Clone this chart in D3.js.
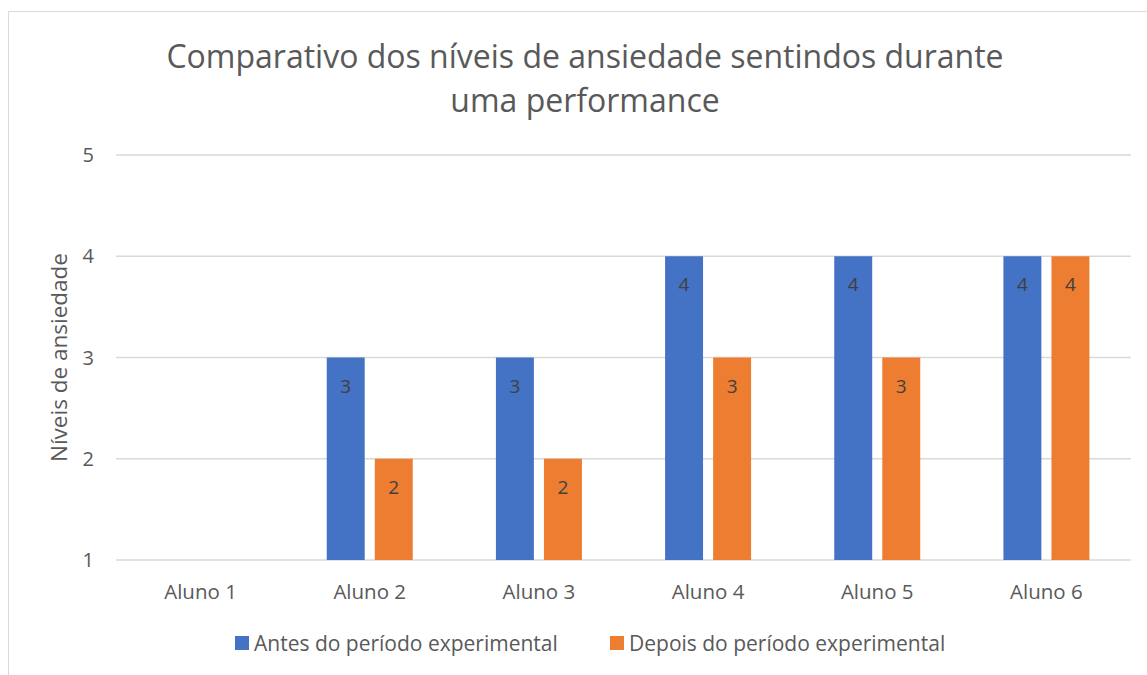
<!DOCTYPE html>
<html>
<head>
<meta charset="utf-8">
<script src="https://cdn.jsdelivr.net/npm/d3@7"></script>
<style>
  body { margin: 0; background: #fff; }
  text { font-family: "Open Sans", "Noto Sans", sans-serif; fill: #595959; }
</style>
</head>
<body>
<div></div>
<script>
let categories = ["Aluno 1", "Aluno 2", "Aluno 3", "Aluno 4", "Aluno 5", "Aluno 6"]
let seriesNames = ["Antes do período experimental", "Depois do período experimental"]
let antes = [1, 3, 3, 4, 4, 4]
let depois = [1, 2, 2, 3, 3, 4]
let yTicks = [1, 2, 3, 4, 5]
let colors = ["#4472C4", "#ED7D31"]

let margin = {top: 155, right: 16, bottom: 115, left: 116}
let W = 1147, H = 675
let width = W - margin.left - margin.right
let height = H - margin.top - margin.bottom

let root = d3.select("div").append("svg")
    .attr("width", W)
    .attr("height", H)

// chart border
root.append("rect")
    .attr("x", 8.5).attr("y", 11.5)
    .attr("width", 1200).attr("height", 700)
    .attr("fill", "none")
    .attr("stroke", "#d9d9d9")

let svg = root.append("g")
    .attr("transform", "translate(" + margin.left + "," + margin.top + ")")

let x = d3.scaleBand().domain(categories).range([0, width])
let inner = d3.scaleBand().domain([0, 1]).range([0, 86]).paddingInner(0.21)
let y = d3.scaleLinear().domain([1, 5]).range([height, 0])

// gridlines
svg.selectAll(".grid")
    .data(yTicks)
    .enter().append("line")
    .attr("x1", 0).attr("x2", width)
    .attr("y1", d => y(d)).attr("y2", d => y(d))
    .attr("stroke", "#d9d9d9")
    .attr("stroke-width", 1.5)

// y tick labels
svg.selectAll(".ytick")
    .data(yTicks)
    .enter().append("text")
    .attr("x", -22)
    .attr("y", d => y(d))
    .attr("dy", "0.35em")
    .attr("text-anchor", "end")
    .style("font-size", "20px")
    .text(d => d)

// x labels
svg.selectAll(".xlab")
    .data(categories)
    .enter().append("text")
    .attr("x", d => x(d) + x.bandwidth() / 2)
    .attr("y", height + 39)
    .attr("text-anchor", "middle")
    .style("font-size", "20.5px")
    .text(d => d)

let rows = []
categories.forEach((c, i) => {
    rows.push({cat: c, s: 0, value: antes[i]})
    rows.push({cat: c, s: 1, value: depois[i]})
})

let off = (x.bandwidth() - 86) / 2

svg.selectAll(".bar")
    .data(rows.filter(d => d.value > 1))
    .enter().append("rect")
    .attr("x", d => x(d.cat) + off + inner(d.s))
    .attr("width", inner.bandwidth())
    .attr("y", d => y(d.value))
    .attr("height", d => y(1) - y(d.value))
    .attr("fill", d => colors[d.s])

svg.selectAll(".lbl")
    .data(rows.filter(d => d.value > 1))
    .enter().append("text")
    .attr("x", d => x(d.cat) + off + inner(d.s) + inner.bandwidth() / 2)
    .attr("y", d => y(d.value) + 35)
    .attr("text-anchor", "middle")
    .style("font-size", "19px")
    .style("fill", "#404040")
    .text(d => d.value)

// title
let title = root.append("text")
    .attr("x", 585)
    .attr("text-anchor", "middle")
    .style("font-size", "32px")
title.append("tspan").attr("x", 585).attr("y", 68).text("Comparativo dos níveis de ansiedade sentindos durante")
title.append("tspan").attr("x", 585).attr("y", 112).text("uma performance")

// y axis title
root.append("text")
    .attr("transform", "translate(67," + (margin.top + height / 2) + ") rotate(-90)")
    .attr("text-anchor", "middle")
    .style("font-size", "22.5px")
    .text("Níveis de ansiedade")

// legend
let legendX = [235, 610]
seriesNames.forEach((name, i) => {
    root.append("rect")
        .attr("x", legendX[i]).attr("y", 636)
        .attr("width", 14).attr("height", 14)
        .attr("fill", colors[i])
    root.append("text")
        .attr("x", legendX[i] + 19).attr("y", 651)
        .style("font-size", "21px")
        .text(name)
})
</script>
</body>
</html>
